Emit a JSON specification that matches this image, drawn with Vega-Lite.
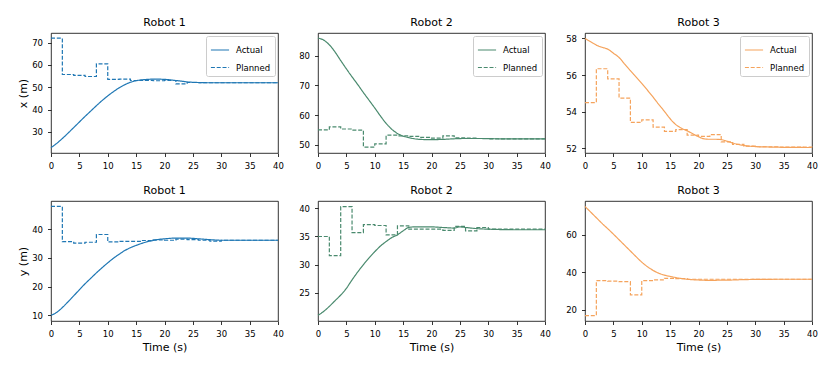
{
"$schema": "https://vega.github.io/schema/vega-lite/v6.json",
"padding": {"left": 16, "top": 16, "right": 5, "bottom": 5},
"datasets": {
"r1x": [
{"t":0,"v":22.9,"kind":"Actual"},{"t":1,"v":24.8,"kind":"Actual"},{"t":2,"v":27.0,"kind":"Actual"},{"t":3,"v":29.4,"kind":"Actual"},{"t":4,"v":31.9,"kind":"Actual"},{"t":5,"v":34.4,"kind":"Actual"},{"t":6,"v":36.9,"kind":"Actual"},{"t":7,"v":39.3,"kind":"Actual"},{"t":8,"v":41.7,"kind":"Actual"},{"t":9,"v":44.0,"kind":"Actual"},{"t":10,"v":46.1,"kind":"Actual"},{"t":11,"v":48.0,"kind":"Actual"},{"t":12,"v":49.7,"kind":"Actual"},{"t":13,"v":51.1,"kind":"Actual"},{"t":14,"v":52.2,"kind":"Actual"},{"t":15,"v":52.9,"kind":"Actual"},{"t":16,"v":53.3,"kind":"Actual"},{"t":17,"v":53.5,"kind":"Actual"},{"t":18,"v":53.6,"kind":"Actual"},{"t":19,"v":53.6,"kind":"Actual"},{"t":20,"v":53.5,"kind":"Actual"},{"t":21,"v":53.3,"kind":"Actual"},{"t":22,"v":53.0,"kind":"Actual"},{"t":23,"v":52.7,"kind":"Actual"},{"t":24,"v":52.4,"kind":"Actual"},{"t":25,"v":52.2,"kind":"Actual"},{"t":26,"v":52.1,"kind":"Actual"},{"t":28,"v":52.0,"kind":"Actual"},{"t":32,"v":52.0,"kind":"Actual"},{"t":40,"v":52.0,"kind":"Actual"},
{"t":0,"v":72.0,"kind":"Planned"},{"t":2,"v":55.7,"kind":"Planned"},{"t":4,"v":55.3,"kind":"Planned"},{"t":6,"v":54.8,"kind":"Planned"},{"t":8,"v":60.5,"kind":"Planned"},{"t":10,"v":53.5,"kind":"Planned"},{"t":12,"v":53.6,"kind":"Planned"},{"t":14,"v":53.0,"kind":"Planned"},{"t":16,"v":53.1,"kind":"Planned"},{"t":18,"v":52.9,"kind":"Planned"},{"t":20,"v":53.0,"kind":"Planned"},{"t":22,"v":51.5,"kind":"Planned"},{"t":24,"v":52.1,"kind":"Planned"},{"t":26,"v":52.0,"kind":"Planned"},{"t":40,"v":52.0,"kind":"Planned"}
],
"r2x": [
{"t":0,"v":86.0,"kind":"Actual"},{"t":1,"v":85.3,"kind":"Actual"},{"t":2,"v":83.7,"kind":"Actual"},{"t":3,"v":81.3,"kind":"Actual"},{"t":4,"v":78.4,"kind":"Actual"},{"t":5,"v":75.6,"kind":"Actual"},{"t":6,"v":72.9,"kind":"Actual"},{"t":7,"v":70.3,"kind":"Actual"},{"t":8,"v":67.6,"kind":"Actual"},{"t":9,"v":65.0,"kind":"Actual"},{"t":10,"v":62.4,"kind":"Actual"},{"t":11,"v":59.7,"kind":"Actual"},{"t":12,"v":57.2,"kind":"Actual"},{"t":13,"v":55.2,"kind":"Actual"},{"t":14,"v":53.8,"kind":"Actual"},{"t":15,"v":52.9,"kind":"Actual"},{"t":16,"v":52.4,"kind":"Actual"},{"t":17,"v":52.0,"kind":"Actual"},{"t":18,"v":51.8,"kind":"Actual"},{"t":20,"v":51.7,"kind":"Actual"},{"t":22,"v":51.8,"kind":"Actual"},{"t":24,"v":52.0,"kind":"Actual"},{"t":26,"v":52.1,"kind":"Actual"},{"t":28,"v":52.1,"kind":"Actual"},{"t":32,"v":52.0,"kind":"Actual"},{"t":40,"v":52.0,"kind":"Actual"},
{"t":0,"v":55.0,"kind":"Planned"},{"t":2,"v":56.0,"kind":"Planned"},{"t":4,"v":55.3,"kind":"Planned"},{"t":6,"v":54.9,"kind":"Planned"},{"t":8,"v":49.2,"kind":"Planned"},{"t":10,"v":50.3,"kind":"Planned"},{"t":12,"v":53.2,"kind":"Planned"},{"t":14,"v":53.0,"kind":"Planned"},{"t":16,"v":52.8,"kind":"Planned"},{"t":18,"v":52.5,"kind":"Planned"},{"t":20,"v":52.2,"kind":"Planned"},{"t":22,"v":53.0,"kind":"Planned"},{"t":24,"v":52.3,"kind":"Planned"},{"t":26,"v":52.2,"kind":"Planned"},{"t":28,"v":52.1,"kind":"Planned"},{"t":30,"v":52.0,"kind":"Planned"},{"t":40,"v":52.0,"kind":"Planned"}
],
"r3x": [
{"t":0,"v":58.0,"kind":"Actual"},{"t":1,"v":57.82,"kind":"Actual"},{"t":2,"v":57.64,"kind":"Actual"},{"t":3,"v":57.52,"kind":"Actual"},{"t":4,"v":57.42,"kind":"Actual"},{"t":5,"v":57.2,"kind":"Actual"},{"t":6,"v":56.96,"kind":"Actual"},{"t":7,"v":56.6,"kind":"Actual"},{"t":8,"v":56.24,"kind":"Actual"},{"t":9,"v":55.9,"kind":"Actual"},{"t":10,"v":55.55,"kind":"Actual"},{"t":11,"v":55.18,"kind":"Actual"},{"t":12,"v":54.8,"kind":"Actual"},{"t":13,"v":54.4,"kind":"Actual"},{"t":14,"v":54.02,"kind":"Actual"},{"t":15,"v":53.62,"kind":"Actual"},{"t":16,"v":53.3,"kind":"Actual"},{"t":17,"v":53.1,"kind":"Actual"},{"t":18,"v":52.96,"kind":"Actual"},{"t":19,"v":52.8,"kind":"Actual"},{"t":20,"v":52.64,"kind":"Actual"},{"t":21,"v":52.52,"kind":"Actual"},{"t":22,"v":52.5,"kind":"Actual"},{"t":23,"v":52.5,"kind":"Actual"},{"t":24,"v":52.48,"kind":"Actual"},{"t":25,"v":52.4,"kind":"Actual"},{"t":26,"v":52.3,"kind":"Actual"},{"t":27,"v":52.22,"kind":"Actual"},{"t":28,"v":52.16,"kind":"Actual"},{"t":30,"v":52.1,"kind":"Actual"},{"t":32,"v":52.08,"kind":"Actual"},{"t":35,"v":52.06,"kind":"Actual"},{"t":40,"v":52.05,"kind":"Actual"},
{"t":0,"v":54.5,"kind":"Planned"},{"t":2,"v":56.35,"kind":"Planned"},{"t":4,"v":55.8,"kind":"Planned"},{"t":6,"v":54.75,"kind":"Planned"},{"t":8,"v":53.42,"kind":"Planned"},{"t":10,"v":53.56,"kind":"Planned"},{"t":12,"v":53.16,"kind":"Planned"},{"t":14,"v":52.93,"kind":"Planned"},{"t":16,"v":53.03,"kind":"Planned"},{"t":18,"v":52.73,"kind":"Planned"},{"t":20,"v":52.66,"kind":"Planned"},{"t":22,"v":52.75,"kind":"Planned"},{"t":24,"v":52.36,"kind":"Planned"},{"t":26,"v":52.22,"kind":"Planned"},{"t":28,"v":52.12,"kind":"Planned"},{"t":30,"v":52.09,"kind":"Planned"},{"t":34,"v":52.07,"kind":"Planned"},{"t":40,"v":52.06,"kind":"Planned"}
],
"r1y": [
{"t":0,"v":10.0,"kind":"Actual"},{"t":1,"v":11.0,"kind":"Actual"},{"t":2,"v":12.7,"kind":"Actual"},{"t":3,"v":14.7,"kind":"Actual"},{"t":4,"v":16.8,"kind":"Actual"},{"t":5,"v":18.9,"kind":"Actual"},{"t":6,"v":21.0,"kind":"Actual"},{"t":7,"v":22.9,"kind":"Actual"},{"t":8,"v":24.8,"kind":"Actual"},{"t":9,"v":26.6,"kind":"Actual"},{"t":10,"v":28.3,"kind":"Actual"},{"t":11,"v":29.9,"kind":"Actual"},{"t":12,"v":31.3,"kind":"Actual"},{"t":13,"v":32.6,"kind":"Actual"},{"t":14,"v":33.6,"kind":"Actual"},{"t":15,"v":34.4,"kind":"Actual"},{"t":16,"v":35.1,"kind":"Actual"},{"t":17,"v":35.7,"kind":"Actual"},{"t":18,"v":36.1,"kind":"Actual"},{"t":19,"v":36.5,"kind":"Actual"},{"t":20,"v":36.7,"kind":"Actual"},{"t":22,"v":36.95,"kind":"Actual"},{"t":24,"v":36.95,"kind":"Actual"},{"t":26,"v":36.7,"kind":"Actual"},{"t":28,"v":36.4,"kind":"Actual"},{"t":30,"v":36.2,"kind":"Actual"},{"t":35,"v":36.2,"kind":"Actual"},{"t":40,"v":36.2,"kind":"Actual"},
{"t":0,"v":48.0,"kind":"Planned"},{"t":2,"v":35.7,"kind":"Planned"},{"t":4,"v":35.2,"kind":"Planned"},{"t":6,"v":35.5,"kind":"Planned"},{"t":8,"v":38.2,"kind":"Planned"},{"t":10,"v":35.6,"kind":"Planned"},{"t":12,"v":35.8,"kind":"Planned"},{"t":14,"v":35.8,"kind":"Planned"},{"t":16,"v":36.1,"kind":"Planned"},{"t":18,"v":36.3,"kind":"Planned"},{"t":20,"v":36.2,"kind":"Planned"},{"t":22,"v":36.6,"kind":"Planned"},{"t":24,"v":36.4,"kind":"Planned"},{"t":26,"v":36.2,"kind":"Planned"},{"t":28,"v":35.9,"kind":"Planned"},{"t":30,"v":36.2,"kind":"Planned"},{"t":40,"v":36.2,"kind":"Planned"}
],
"r2y": [
{"t":0,"v":21.0,"kind":"Actual"},{"t":1,"v":21.7,"kind":"Actual"},{"t":2,"v":22.6,"kind":"Actual"},{"t":3,"v":23.6,"kind":"Actual"},{"t":4,"v":24.6,"kind":"Actual"},{"t":5,"v":25.8,"kind":"Actual"},{"t":6,"v":27.3,"kind":"Actual"},{"t":7,"v":28.7,"kind":"Actual"},{"t":8,"v":30.0,"kind":"Actual"},{"t":9,"v":31.2,"kind":"Actual"},{"t":10,"v":32.3,"kind":"Actual"},{"t":11,"v":33.3,"kind":"Actual"},{"t":12,"v":34.1,"kind":"Actual"},{"t":13,"v":34.8,"kind":"Actual"},{"t":14,"v":35.3,"kind":"Actual"},{"t":15,"v":36.0,"kind":"Actual"},{"t":16,"v":36.6,"kind":"Actual"},{"t":17,"v":36.7,"kind":"Actual"},{"t":18,"v":36.7,"kind":"Actual"},{"t":20,"v":36.7,"kind":"Actual"},{"t":22,"v":36.6,"kind":"Actual"},{"t":24,"v":36.5,"kind":"Actual"},{"t":25,"v":36.7,"kind":"Actual"},{"t":26,"v":36.6,"kind":"Actual"},{"t":28,"v":36.4,"kind":"Actual"},{"t":30,"v":36.3,"kind":"Actual"},{"t":35,"v":36.2,"kind":"Actual"},{"t":40,"v":36.2,"kind":"Actual"},
{"t":0,"v":35.0,"kind":"Planned"},{"t":2,"v":31.6,"kind":"Planned"},{"t":4,"v":40.3,"kind":"Planned"},{"t":6,"v":35.7,"kind":"Planned"},{"t":8,"v":37.1,"kind":"Planned"},{"t":10,"v":36.95,"kind":"Planned"},{"t":12,"v":35.3,"kind":"Planned"},{"t":14,"v":36.9,"kind":"Planned"},{"t":16,"v":36.3,"kind":"Planned"},{"t":18,"v":36.3,"kind":"Planned"},{"t":20,"v":36.3,"kind":"Planned"},{"t":22,"v":36.1,"kind":"Planned"},{"t":24,"v":36.8,"kind":"Planned"},{"t":26,"v":36.0,"kind":"Planned"},{"t":28,"v":36.6,"kind":"Planned"},{"t":30,"v":36.3,"kind":"Planned"},{"t":40,"v":36.2,"kind":"Planned"}
],
"r3y": [
{"t":0,"v":75.0,"kind":"Actual"},{"t":1,"v":72.0,"kind":"Actual"},{"t":2,"v":69.0,"kind":"Actual"},{"t":3,"v":66.0,"kind":"Actual"},{"t":4,"v":63.2,"kind":"Actual"},{"t":5,"v":60.3,"kind":"Actual"},{"t":6,"v":57.3,"kind":"Actual"},{"t":7,"v":54.3,"kind":"Actual"},{"t":8,"v":51.3,"kind":"Actual"},{"t":9,"v":48.3,"kind":"Actual"},{"t":10,"v":45.4,"kind":"Actual"},{"t":11,"v":43.0,"kind":"Actual"},{"t":12,"v":41.0,"kind":"Actual"},{"t":13,"v":39.5,"kind":"Actual"},{"t":14,"v":38.5,"kind":"Actual"},{"t":15,"v":37.8,"kind":"Actual"},{"t":16,"v":37.2,"kind":"Actual"},{"t":17,"v":36.7,"kind":"Actual"},{"t":18,"v":36.3,"kind":"Actual"},{"t":20,"v":35.9,"kind":"Actual"},{"t":22,"v":35.7,"kind":"Actual"},{"t":24,"v":35.8,"kind":"Actual"},{"t":26,"v":35.9,"kind":"Actual"},{"t":28,"v":36.1,"kind":"Actual"},{"t":30,"v":36.2,"kind":"Actual"},{"t":35,"v":36.3,"kind":"Actual"},{"t":40,"v":36.3,"kind":"Actual"},
{"t":0,"v":17.0,"kind":"Planned"},{"t":2,"v":35.6,"kind":"Planned"},{"t":4,"v":35.3,"kind":"Planned"},{"t":6,"v":35.0,"kind":"Planned"},{"t":8,"v":28.0,"kind":"Planned"},{"t":10,"v":35.6,"kind":"Planned"},{"t":12,"v":36.0,"kind":"Planned"},{"t":14,"v":36.8,"kind":"Planned"},{"t":16,"v":36.6,"kind":"Planned"},{"t":18,"v":36.3,"kind":"Planned"},{"t":40,"v":36.3,"kind":"Planned"}
]
},
"columns": 3,
"spacing": {"row": 48, "column": 40},
"bounds": "flush",
"resolve": {
"scale": {"x": "independent", "y": "independent", "color": "independent", "strokeDash": "independent"},
"axis": {"x": "independent", "y": "independent"},
"legend": {"color": "independent", "strokeDash": "independent"}
},
"concat": [
{"title": "Robot 1", "width": 227, "height": 120, "data": {"name": "r1x"},
 "encoding": {
  "x": {"field": "t", "type": "quantitative", "scale": {"domain": [0, 40], "nice": false}, "axis": {"values": [0,5,10,15,20,25,30,35,40], "title": null}},
  "y": {"field": "v", "type": "quantitative", "scale": {"domain": [20.5, 74.3], "nice": false, "zero": false}, "axis": {"values": [30,40,50,60,70], "title": "x (m)"}},
  "color": {"field": "kind", "type": "nominal", "scale": {"domain": ["Actual", "Planned"], "range": ["#1f77b4", "#1f77b4"]}, "legend": {"title": null}},
  "strokeDash": {"field": "kind", "type": "nominal", "scale": {"domain": ["Actual", "Planned"], "range": [[1, 0], [4, 1.8]]}, "legend": {"title": null}}
 },
 "layer": [
  {"transform": [{"filter": "datum.kind === 'Actual'"}], "mark": {"type": "line", "interpolate": "monotone", "strokeWidth": 1.2}},
  {"transform": [{"filter": "datum.kind === 'Planned'"}], "mark": {"type": "line", "interpolate": "step-after", "strokeWidth": 1.2}}
 ]},
{"title": "Robot 2", "width": 227, "height": 120, "data": {"name": "r2x"},
 "encoding": {
  "x": {"field": "t", "type": "quantitative", "scale": {"domain": [0, 40], "nice": false}, "axis": {"values": [0,5,10,15,20,25,30,35,40], "title": null}},
  "y": {"field": "v", "type": "quantitative", "scale": {"domain": [47.2, 87.7], "nice": false, "zero": false}, "axis": {"values": [50,60,70,80], "title": null}},
  "color": {"field": "kind", "type": "nominal", "scale": {"domain": ["Actual", "Planned"], "range": ["#4a8a6e", "#4a8a6e"]}, "legend": {"title": null}},
  "strokeDash": {"field": "kind", "type": "nominal", "scale": {"domain": ["Actual", "Planned"], "range": [[1, 0], [4, 1.8]]}, "legend": {"title": null}}
 },
 "layer": [
  {"transform": [{"filter": "datum.kind === 'Actual'"}], "mark": {"type": "line", "interpolate": "monotone", "strokeWidth": 1.2}},
  {"transform": [{"filter": "datum.kind === 'Planned'"}], "mark": {"type": "line", "interpolate": "step-after", "strokeWidth": 1.2}}
 ]},
{"title": "Robot 3", "width": 227, "height": 120, "data": {"name": "r3x"},
 "encoding": {
  "x": {"field": "t", "type": "quantitative", "scale": {"domain": [0, 40], "nice": false}, "axis": {"values": [0,5,10,15,20,25,30,35,40], "title": null}},
  "y": {"field": "v", "type": "quantitative", "scale": {"domain": [51.75, 58.3], "nice": false, "zero": false}, "axis": {"values": [52,54,56,58], "title": null}},
  "color": {"field": "kind", "type": "nominal", "scale": {"domain": ["Actual", "Planned"], "range": ["#f5a35c", "#f5a35c"]}, "legend": {"title": null}},
  "strokeDash": {"field": "kind", "type": "nominal", "scale": {"domain": ["Actual", "Planned"], "range": [[1, 0], [4, 1.8]]}, "legend": {"title": null}}
 },
 "layer": [
  {"transform": [{"filter": "datum.kind === 'Actual'"}], "mark": {"type": "line", "interpolate": "monotone", "strokeWidth": 1.2}},
  {"transform": [{"filter": "datum.kind === 'Planned'"}], "mark": {"type": "line", "interpolate": "step-after", "strokeWidth": 1.2}}
 ]},
{"title": "Robot 1", "width": 227, "height": 120, "data": {"name": "r1y"},
 "encoding": {
  "x": {"field": "t", "type": "quantitative", "scale": {"domain": [0, 40], "nice": false}, "axis": {"values": [0,5,10,15,20,25,30,35,40], "title": "Time (s)"}},
  "y": {"field": "v", "type": "quantitative", "scale": {"domain": [8.0, 49.9], "nice": false, "zero": false}, "axis": {"values": [10,20,30,40], "title": "y (m)"}},
  "color": {"field": "kind", "type": "nominal", "scale": {"domain": ["Actual", "Planned"], "range": ["#1f77b4", "#1f77b4"]}, "legend": null},
  "strokeDash": {"field": "kind", "type": "nominal", "scale": {"domain": ["Actual", "Planned"], "range": [[1, 0], [4, 1.8]]}, "legend": null}
 },
 "layer": [
  {"transform": [{"filter": "datum.kind === 'Actual'"}], "mark": {"type": "line", "interpolate": "monotone", "strokeWidth": 1.2}},
  {"transform": [{"filter": "datum.kind === 'Planned'"}], "mark": {"type": "line", "interpolate": "step-after", "strokeWidth": 1.2}}
 ]},
{"title": "Robot 2", "width": 227, "height": 120, "data": {"name": "r2y"},
 "encoding": {
  "x": {"field": "t", "type": "quantitative", "scale": {"domain": [0, 40], "nice": false}, "axis": {"values": [0,5,10,15,20,25,30,35,40], "title": "Time (s)"}},
  "y": {"field": "v", "type": "quantitative", "scale": {"domain": [20.0, 41.3], "nice": false, "zero": false}, "axis": {"values": [25,30,35,40], "title": null}},
  "color": {"field": "kind", "type": "nominal", "scale": {"domain": ["Actual", "Planned"], "range": ["#4a8a6e", "#4a8a6e"]}, "legend": null},
  "strokeDash": {"field": "kind", "type": "nominal", "scale": {"domain": ["Actual", "Planned"], "range": [[1, 0], [4, 1.8]]}, "legend": null}
 },
 "layer": [
  {"transform": [{"filter": "datum.kind === 'Actual'"}], "mark": {"type": "line", "interpolate": "monotone", "strokeWidth": 1.2}},
  {"transform": [{"filter": "datum.kind === 'Planned'"}], "mark": {"type": "line", "interpolate": "step-after", "strokeWidth": 1.2}}
 ]},
{"title": "Robot 3", "width": 227, "height": 120, "data": {"name": "r3y"},
 "encoding": {
  "x": {"field": "t", "type": "quantitative", "scale": {"domain": [0, 40], "nice": false}, "axis": {"values": [0,5,10,15,20,25,30,35,40], "title": "Time (s)"}},
  "y": {"field": "v", "type": "quantitative", "scale": {"domain": [14.1, 77.9], "nice": false, "zero": false}, "axis": {"values": [20,40,60], "title": null}},
  "color": {"field": "kind", "type": "nominal", "scale": {"domain": ["Actual", "Planned"], "range": ["#f5a35c", "#f5a35c"]}, "legend": null},
  "strokeDash": {"field": "kind", "type": "nominal", "scale": {"domain": ["Actual", "Planned"], "range": [[1, 0], [4, 1.8]]}, "legend": null}
 },
 "layer": [
  {"transform": [{"filter": "datum.kind === 'Actual'"}], "mark": {"type": "line", "interpolate": "monotone", "strokeWidth": 1.2}},
  {"transform": [{"filter": "datum.kind === 'Planned'"}], "mark": {"type": "line", "interpolate": "step-after", "strokeWidth": 1.2}}
 ]}
],
"config": {
 "font": "DejaVu Sans",
 "background": "white",
 "view": {"stroke": "#000000", "strokeWidth": 0.8},
 "axis": {"domain": false, "grid": false, "ticks": true, "tickColor": "#000000", "tickWidth": 0.8, "tickSize": 3.5, "labelFont": "DejaVu Sans", "labelFontSize": 8.5, "labelColor": "#000000", "labelPadding": 5, "labelFlush": false, "labelOverlap": false, "titleFont": "DejaVu Sans", "titleFontSize": 11, "titleFontWeight": "normal", "titleColor": "#000000", "titlePadding": 3.5},
 "title": {"font": "DejaVu Sans", "fontSize": 11, "fontWeight": "normal", "color": "#000000", "anchor": "middle", "frame": "group", "offset": 5},
 "legend": {"orient": "top-right", "offset": 3, "padding": 4, "fillColor": "rgba(255,255,255,0.8)", "strokeColor": "#cccccc", "cornerRadius": 2, "labelFont": "DejaVu Sans", "labelFontSize": 8.5, "labelColor": "#000000", "symbolSize": 330, "symbolStrokeWidth": 1.2, "symbolType": "stroke", "rowPadding": 2.5, "labelOffset": 6}
}
}
